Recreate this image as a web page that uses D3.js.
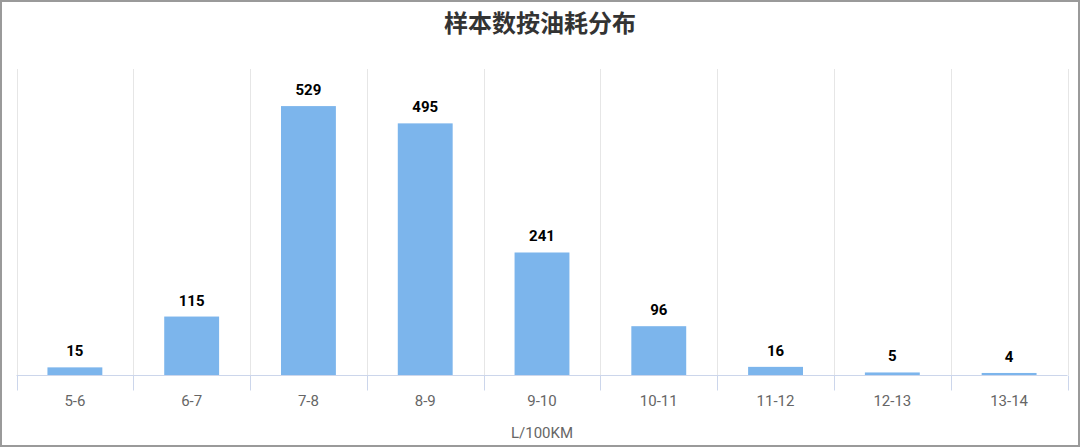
<!DOCTYPE html>
<html><head><meta charset="utf-8">
<script src="https://cdn.jsdelivr.net/npm/d3@7"></script>
<style>body{margin:0;background:#fff}svg{display:block}</style>
</head><body>
<svg id="c" width="1080" height="447"></svg>
<script>
const categories = ["5-6","6-7","7-8","8-9","9-10","10-11","11-12","12-13","13-14"];
const values = [15,115,529,495,241,96,16,5,4];
const title = "样本数按油耗分布";
const xTitle = "L/100KM";

const svg = d3.select("#c");
const W = 1080, H = 447;
const m = {left:16.5, right:12.5, top:70, bottom:72};
const x = d3.scaleBand().domain(categories).range([m.left, W - m.right]).paddingInner(0).paddingOuter(0);
const y = d3.scaleLinear().domain([0,600]).range([H - m.bottom, m.top]);

svg.append("rect").attr("x",1).attr("y",1).attr("width",W-2).attr("height",H-2)
  .attr("fill","#fff").attr("stroke","#9a9a9a").attr("stroke-width",2);

// vertical grid lines
const edges = categories.map(c => x(c)).concat([W - m.right]);
svg.append("g").selectAll("line").data(edges).join("line")
  .attr("x1",d=>Math.round(d)+0.5).attr("x2",d=>Math.round(d)+0.5)
  .attr("y1",69).attr("y2",y(0))
  .attr("stroke","#e6e6e6").attr("stroke-width",1);

// bars
const bw = x.bandwidth()*0.47;
svg.append("g").selectAll("rect").data(values).join("rect")
  .attr("x",(d,i)=>x(categories[i]) + (x.bandwidth()-bw)/2)
  .attr("width",bw)
  .attr("y",d=>y(d)).attr("height",d=>y(0)-y(d))
  .attr("fill","#7cb5ec");

// value labels
svg.append("g").selectAll("text").data(values).join("text")
  .attr("x",(d,i)=>x(categories[i]) + x.bandwidth()/2)
  .attr("y",d=>y(d)-11)
  .attr("text-anchor","middle")
  .attr("font-family","Roboto, sans-serif").attr("font-weight","bold").attr("font-size",15)
  .attr("fill","#000").text(d=>d);

// x axis
const gx = svg.append("g").attr("transform",`translate(0,${y(0)+0.5})`);
gx.append("line").attr("x1",m.left).attr("x2",W-m.right).attr("stroke","#ccd6eb");
gx.append("g").selectAll("line").data(edges).join("line")
  .attr("x1",d=>Math.round(d)+0.5).attr("x2",d=>Math.round(d)+0.5)
  .attr("y1",0).attr("y2",15).attr("stroke","#ccd6eb");
gx.append("g").selectAll("text").data(categories).join("text")
  .attr("x",d=>x(d)+x.bandwidth()/2).attr("y",30)
  .attr("text-anchor","middle")
  .attr("font-family","Roboto, sans-serif").attr("font-size",15)
  .attr("fill","#666").text(d=>d);

svg.append("text").attr("x",(m.left + W - m.right)/2).attr("y",438)
  .attr("text-anchor","middle").attr("font-family","Roboto, sans-serif").attr("font-size",15)
  .attr("fill","#666").text(xTitle);

svg.append("text").attr("x",W/2).attr("y",32)
  .attr("text-anchor","middle").attr("font-family","'Noto Sans CJK SC', sans-serif")
  .attr("font-weight","bold").attr("font-size",24).attr("fill","#333").text(title);
</script>
</body></html>
